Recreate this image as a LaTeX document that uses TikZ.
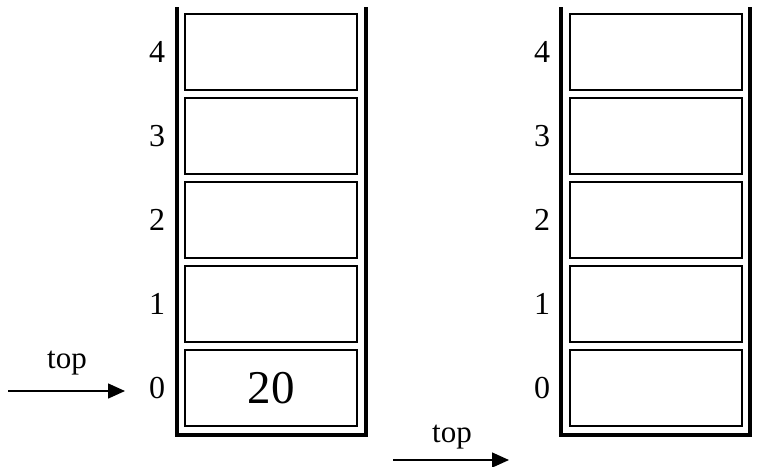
\documentclass[tikz,border=0pt]{standalone}
\usepackage{fontspec}
\setmainfont{Liberation Serif}
\usetikzlibrary{arrows.meta}
\begin{document}
\begin{tikzpicture}[x=1pt,y=-1pt,
  cell/.style={draw, line width=1.6pt, minimum width=172pt, minimum height=76pt, inner sep=0pt},
  wall/.style={line width=4pt, line join=miter},
  idx/.style={font=\fontsize{32}{32}\selectfont, inner sep=0pt},
  toplbl/.style={font=\fontsize{31}{31}\selectfont, inner sep=0pt},
  ptr/.style={line width=1.5pt, -{Triangle[length=17pt,width=15pt]}},
  val/.style={font=\fontsize{47}{47}\selectfont}]
\useasboundingbox (0,0) rectangle (762,466);
% left stack
\draw[wall] (177,7) -- (177,435) -- (366,435) -- (366,7);
\foreach \i in {0,...,4}{
  \node[cell] (L\i) at (271,{52+84*(4-\i)}) {};
  \node[idx] (Li\i) at (157,{52+84*(4-\i)}) {\i};
}
\node[val] at (L0) {20};
% right stack
\draw[wall] (561,7) -- (561,435) -- (750,435) -- (750,7);
\foreach \i in {0,...,4}{
  \node[cell] (R\i) at (656,{52+84*(4-\i)}) {};
  \node[idx] (Ri\i) at (542,{52+84*(4-\i)}) {\i};
}
% pointers
\node[toplbl] (t1) at (67,363) {top};
\coordinate (a1s) at (8,391);
\coordinate (a1e) at (125,391);
\draw[ptr] (a1s) -- (a1e);
\node[toplbl] (t2) at (452,437) {top};
\coordinate (a2s) at (393,460);
\coordinate (a2e) at (509,460);
\draw[ptr] (a2s) -- (a2e);
\end{tikzpicture}
\end{document}
